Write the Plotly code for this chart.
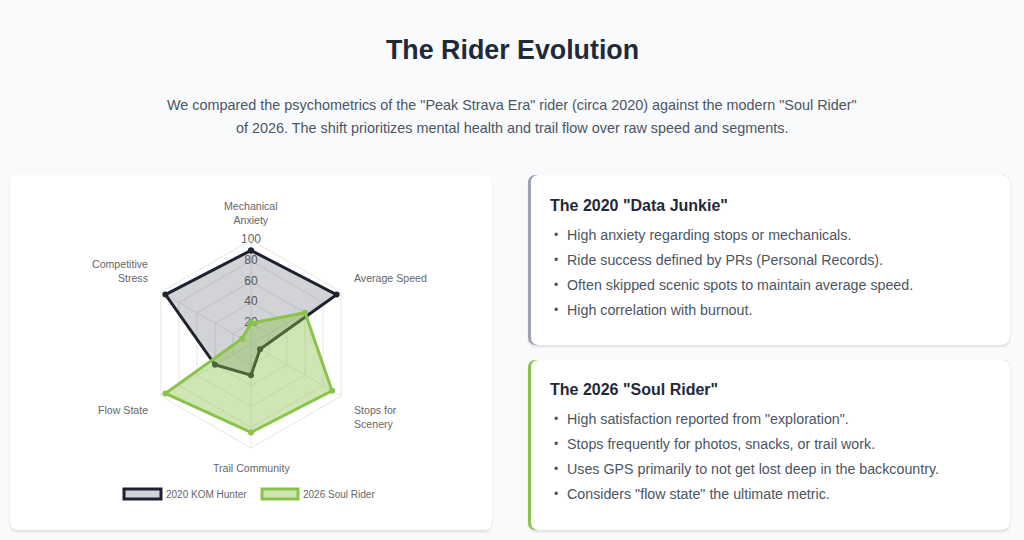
import math
import plotly.graph_objects as go

W, H = 1024, 540

categories = ["Mechanical Anxiety", "Average Speed", "Stops for Scenery",
              "Trail Community", "Flow State", "Competitive Stress"]
category_labels = ["Mechanical<br>Anxiety", "Average Speed", "Stops for<br>Scenery",
                   "Trail Community", "Flow State", "Competitive<br>Stress"]
kom_2020 = [90, 95, 10, 30, 40, 95]
soul_2026 = [20, 60, 90, 85, 95, 10]
radial_ticks = [20, 40, 60, 80, 100]
series_names = ["2020 KOM Hunter", "2026 Soul Rider"]

title_text = "The Rider Evolution"
subtitle_lines = [
    'We compared the psychometrics of the "Peak Strava Era" rider (circa 2020) against the modern "Soul Rider"',
    "of 2026. The shift prioritizes mental health and trail flow over raw speed and segments.",
]
card1_title = 'The 2020 "Data Junkie"'
card1_items = [
    "High anxiety regarding stops or mechanicals.",
    "Ride success defined by PRs (Personal Records).",
    "Often skipped scenic spots to maintain average speed.",
    "High correlation with burnout.",
]
card2_title = 'The 2026 "Soul Rider"'
card2_items = [
    'High satisfaction reported from "exploration".',
    "Stops frequently for photos, snacks, or trail work.",
    "Uses GPS primarily to not get lost deep in the backcountry.",
    'Considers "flow state" the ultimate metric.',
]

FONT = "Liberation Sans, Arial, Helvetica, sans-serif"
DARK = "#1e2130"
DARK_FILL = "rgba(30,33,48,0.2)"
GREEN = "#8bc34a"
GREEN_FILL = "rgba(139,195,74,0.42)"
BG = "#f8fafc"


def fx(x):
    return x / W


def fy(y):
    return 1 - y / H


def rrect(x0, y0, x1, y1, r):
    rx, ry = r / W, r / H
    X0, X1 = fx(x0), fx(x1)
    Y0, Y1 = fy(y0), fy(y1)
    return (f"M{X0+rx},{Y0} L{X1-rx},{Y0} Q{X1},{Y0} {X1},{Y0-ry} "
            f"L{X1},{Y1+ry} Q{X1},{Y1} {X1-rx},{Y1} L{X0+rx},{Y1} "
            f"Q{X0},{Y1} {X0},{Y1+ry} L{X0},{Y0-ry} Q{X0},{Y0} {X0+rx},{Y0} Z")


shapes = []


def card(x0, y0, x1, y1, border=None):
    shapes.append(dict(type="path", xref="paper", yref="paper", layer="below",
                       path=rrect(x0 - 1, y0, x1 + 1, y1 + 3, 10),
                       fillcolor="rgba(0,0,0,0.045)", line=dict(width=0)))
    shapes.append(dict(type="path", xref="paper", yref="paper", layer="below",
                       path=rrect(x0, y0, x1, y1 + 1.5, 9),
                       fillcolor="rgba(0,0,0,0.05)", line=dict(width=0)))
    if border:
        shapes.append(dict(type="path", xref="paper", yref="paper", layer="below",
                           path=rrect(x0, y0, x1, y1, 8),
                           fillcolor=border, line=dict(width=0)))
        shapes.append(dict(type="path", xref="paper", yref="paper", layer="below",
                           path=rrect(x0 + 3, y0, x1, y1, 8),
                           fillcolor="white", line=dict(width=0)))
    else:
        shapes.append(dict(type="path", xref="paper", yref="paper", layer="below",
                           path=rrect(x0, y0, x1, y1, 8),
                           fillcolor="white", line=dict(width=0)))


card(10, 175, 492, 530)
card(528, 175, 1010, 345, border="#9ca3af")
card(528, 360, 1010, 530, border=GREEN)

annotations = []


def text(x, y, s, size=14, color="#4b5563", anchor="left", bold=False,
         yanchor="middle", align=None):
    annotations.append(dict(xref="paper", yref="paper", x=fx(x), y=fy(y),
                            text=f"<b>{s}</b>" if bold else s, showarrow=False,
                            xanchor=anchor, yanchor=yanchor,
                            align=align or ("center" if anchor == "center" else anchor),
                            font=dict(family=FONT, size=size, color=color)))


text(512, 50, title_text, size=26.8, color="#1f2937", anchor="center", bold=True)
text(512, 105, subtitle_lines[0], size=14.4, color="#4b5563", anchor="center")
text(512, 128, subtitle_lines[1], size=14.4, color="#4b5563", anchor="center")


def card_text(y_title, title, items):
    text(548, y_title, title, size=16, color="#1f2937", bold=True)
    for i, it in enumerate(items):
        y = y_title + 30 + i * 25
        text(552, y, "•", size=12, color="#4b5563")
        text(565, y, it, size=14.25, color="#4b5563")


card_text(205, card1_title, card1_items)
card_text(389, card2_title, card2_items)

legend_items = [(124, 161, DARK, DARK_FILL, series_names[0]),
                (262, 298, GREEN, GREEN_FILL, series_names[1])]
for x0, x1, lc, fc, name in legend_items:
    shapes.append(dict(type="rect", xref="paper", yref="paper",
                       x0=fx(x0), x1=fx(x1), y0=fy(499), y1=fy(489),
                       fillcolor=fc, line=dict(color=lc, width=3)))
    text(x1 + 3, 494, name, size=10, color="#666666")

# polar geometry: center (251,344) px, radius 104 px for value 100
cx, cy, R = 251, 344, 104
domain_x = [fx(cx - R), fx(cx + R)]
domain_y = [fy(cy + R), fy(cy - R)]

# point labels placed just outside the outer ring, following each spoke
n = len(categories)
for i, lab in enumerate(category_labels):
    ang = math.radians(90 - 360 * i / n)
    d = R * 1.12
    px, py = cx + d * math.cos(ang), cy - d * math.sin(ang)
    c, s = math.cos(ang), math.sin(ang)
    xa = "center" if abs(c) < 0.01 else ("left" if c > 0 else "right")
    ya = "bottom" if s > 0.01 else "top"
    text(px, py, lab, size=10.6, color="#666666", anchor=xa, yanchor=ya, align=xa)

fig = go.Figure()

# radial tick labels centered on the top spoke
fig.add_trace(go.Scatterpolar(
    r=radial_ticks, theta=[categories[0]] * len(radial_ticks),
    mode="text", text=[str(v) for v in radial_ticks],
    textfont=dict(family=FONT, size=12, color="#666666"),
    textposition="middle center", showlegend=False, hoverinfo="skip"))

for vals, lc, fc, name in [(kom_2020, DARK, DARK_FILL, series_names[0]),
                           (soul_2026, GREEN, GREEN_FILL, series_names[1])]:
    fig.add_trace(go.Scatterpolar(
        r=vals + vals[:1], theta=categories + categories[:1],
        mode="lines+markers", fill="toself", fillcolor=fc,
        line=dict(color=lc, width=3),
        marker=dict(color=lc, size=6),
        name=name, showlegend=False))

fig.update_layout(
    width=W, height=H,
    margin=dict(l=0, r=0, t=0, b=0),
    paper_bgcolor=BG,
    plot_bgcolor=BG,
    shapes=shapes,
    annotations=annotations,
    showlegend=False,
    polar=dict(
        domain=dict(x=domain_x, y=domain_y),
        bgcolor="white",
        gridshape="linear",
        radialaxis=dict(range=[0, 100], tickvals=radial_ticks, showticklabels=False,
                        showline=False, ticks="", gridcolor="#e6e6e6", gridwidth=1,
                        angle=90),
        angularaxis=dict(rotation=90, direction="clockwise",
                         tickvals=categories, showticklabels=False,
                         ticks="", showline=True, linecolor="#e6e6e6",
                         gridcolor="#e6e6e6"),
    ),
)

fig.write_html(
    "out.html",
    config={"displayModeBar": False},
    post_script="document.body.style.margin='0';document.body.style.padding='0';"
                "document.body.style.background='#f8fafc';"
                "document.documentElement.style.overflow='hidden';",
)
